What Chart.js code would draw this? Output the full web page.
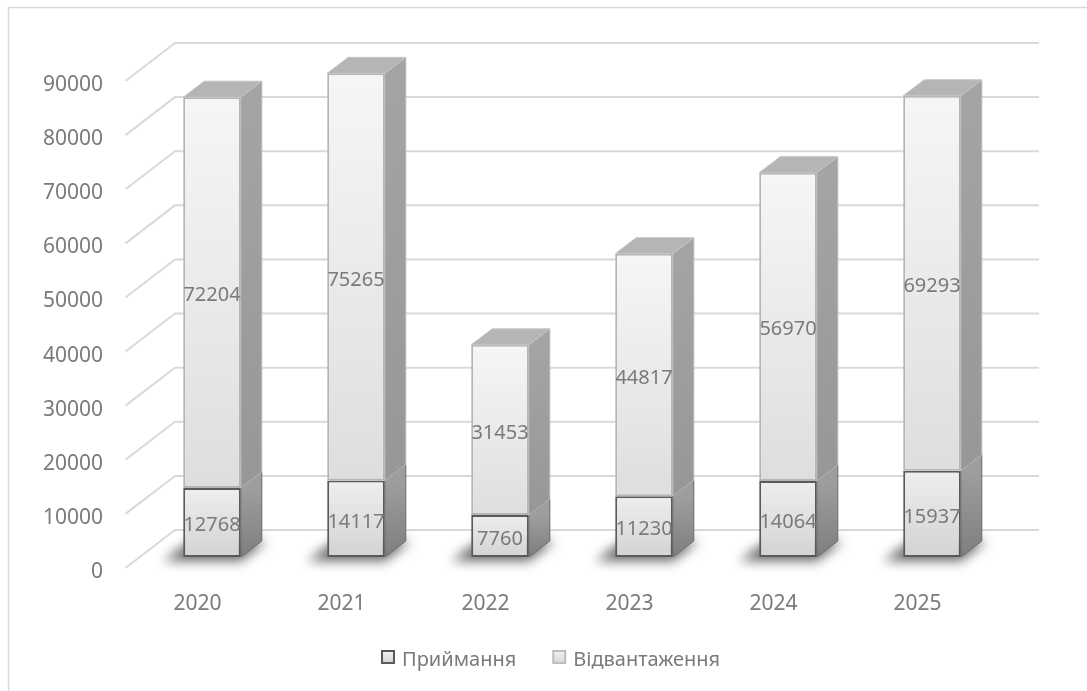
<!DOCTYPE html>
<html>
<head>
<meta charset="utf-8">
<script src="https://cdn.jsdelivr.net/npm/chart.js@4.4.1/dist/chart.umd.min.js"></script>
<style>
  body { margin: 0; background: #fff; }
  canvas { display: block; }
</style>
</head>
<body>
<canvas id="chart" width="1087" height="691"></canvas>
<script>
const years = ['2020', '2021', '2022', '2023', '2024', '2025'];
const receiving = [12768, 14117, 7760, 11230, 14064, 15937];
const shipping = [72204, 75265, 31453, 44817, 56970, 69293];
const seriesNames = ['Приймання', 'Відвантаження'];
const yMax = 90000;
const yStep = 10000;

const FONT = '"Noto Sans", "Open Sans", sans-serif';
const TEXT = '#7a7a7a';
// depth offsets of the fake 3d box
const FRONT = { dx: -14.5, dy: 11 };
const BACK = { dx: 35, dy: -27 };
const DEPTH = { dx: 21, dy: -16 };
// Noto's middle baseline sits a bit high for digits
const TXT_NUDGE = 3;

function segRange(di, i) {
  const start = di === 0 ? 0 : receiving[i];
  const val = di === 0 ? receiving[i] : shipping[i];
  return [start, start + val];
}

function frontFill(di) {
  return ctx => {
    const chart = ctx.chart;
    if (!chart.chartArea || ctx.type !== 'data') return '#eeeeee';
    const y = chart.scales.y;
    const [s, e] = segRange(di, ctx.dataIndex);
    const g = chart.ctx.createLinearGradient(0, y.getPixelForValue(e), 0, y.getPixelForValue(s));
    if (di === 0) {
      g.addColorStop(0, '#eeeeee');
      g.addColorStop(1, '#d3d3d3');
    } else {
      g.addColorStop(0, '#f6f6f6');
      g.addColorStop(1, '#dedede');
    }
    return g;
  };
}

function poly(ctx, pts) {
  ctx.beginPath();
  ctx.moveTo(pts[0][0], pts[0][1]);
  for (let k = 1; k < pts.length; k++) ctx.lineTo(pts[k][0], pts[k][1]);
  ctx.closePath();
}

const boxPlugin = {
  id: 'box3d',
  beforeDatasetsDraw(chart) {
    const ctx = chart.ctx;
    const area = chart.chartArea;
    const ys = chart.scales.y;
    ctx.save();
    // outer frame
    ctx.strokeStyle = '#d9d9d9';
    ctx.lineWidth = 1.5;
    ctx.strokeRect(8.5, 7.5, 1200, 1200);
    // gridlines: floor/left wall diagonals + back wall
    ctx.strokeStyle = '#d9d9d9';
    ctx.lineWidth = 2;
    ys.ticks.forEach(t => {
      const py = ys.getPixelForValue(t.value);
      ctx.beginPath();
      ctx.moveTo(area.left + FRONT.dx, py + FRONT.dy);
      ctx.lineTo(area.left + BACK.dx, py + BACK.dy);
      ctx.lineTo(area.right + BACK.dx, py + BACK.dy);
      ctx.stroke();
    });
    // tick labels on the front plane
    ctx.fillStyle = TEXT;
    ctx.font = '21px ' + FONT;
    ctx.textAlign = 'right';
    ctx.textBaseline = 'middle';
    ys.ticks.forEach(t => {
      const py = ys.getPixelForValue(t.value);
      ctx.fillText(String(t.value), 103, py + FRONT.dy + TXT_NUDGE + 1);
    });
    const xs = chart.scales.x;
    ctx.textAlign = 'center';
    years.forEach((lab, i) => {
      ctx.fillText(lab, xs.getPixelForValue(i) + FRONT.dx, 601 + TXT_NUDGE);
    });
    // floor shadows
    const meta = chart.getDatasetMeta(0);
    ctx.filter = 'blur(6px)';
    ctx.fillStyle = 'rgba(0,0,0,0.6)';
    meta.data.forEach(bar => {
      const l = bar.x - bar.width / 2, r = bar.x + bar.width / 2, b = bar.base;
      poly(ctx, [[l - 20, b + 4], [r, b + 4], [r + 26, b - 16], [l + 8, b - 16]]);
      ctx.fill();
    });
    ctx.filter = 'none';
    ctx.restore();
  },
  afterDatasetsDraw(chart) {
    const ctx = chart.ctx;
    ctx.save();
    const top = chart.data.datasets.length - 1;
    chart.data.datasets.forEach((ds, di) => {
      const meta = chart.getDatasetMeta(di);
      meta.data.forEach(bar => {
        const l = bar.x - bar.width / 2, r = bar.x + bar.width / 2;
        const yt = bar.y, yb = bar.base;
        const g = ctx.createLinearGradient(0, yt, 0, yb);
        if (di === 0) {
          g.addColorStop(0, '#9e9e9e');
          g.addColorStop(1, '#7e7e7e');
        } else {
          g.addColorStop(0, '#a4a4a4');
          g.addColorStop(1, '#979797');
        }
        poly(ctx, [[r, yt], [r + DEPTH.dx, yt + DEPTH.dy], [r + DEPTH.dx, yb + DEPTH.dy], [r, yb]]);
        ctx.fillStyle = g;
        ctx.fill();
        ctx.strokeStyle = di === 0 ? '#6a6a6a' : '#b9b9b9';
        ctx.lineWidth = 1;
        ctx.stroke();
        if (di === top) {
          poly(ctx, [[l, yt], [l + DEPTH.dx, yt + DEPTH.dy], [r + DEPTH.dx, yt + DEPTH.dy], [r, yt]]);
          ctx.fillStyle = '#b5b5b5';
          ctx.fill();
          ctx.strokeStyle = '#c4c4c4';
          ctx.stroke();
        }
      });
    });
    // value labels
    ctx.fillStyle = TEXT;
    ctx.font = '20px ' + FONT;
    ctx.textAlign = 'center';
    ctx.textBaseline = 'middle';
    chart.data.datasets.forEach((ds, di) => {
      chart.getDatasetMeta(di).data.forEach((bar, i) => {
        ctx.fillText(String(ds.data[i]), bar.x, (bar.y + bar.base) / 2 + TXT_NUDGE);
      });
    });
    ctx.restore();
  },
  afterDraw(chart) {
    const ctx = chart.ctx;
    ctx.save();
    ctx.font = '20px ' + FONT;
    ctx.textBaseline = 'middle';
    ctx.textAlign = 'left';
    const ly = 657;
    let x = 381;
    seriesNames.forEach((name, di) => {
      const g = ctx.createLinearGradient(0, ly - 6, 0, ly + 6);
      g.addColorStop(0, '#f2f2f2');
      g.addColorStop(1, '#d6d6d6');
      ctx.fillStyle = g;
      ctx.fillRect(x + 1, ly - 6, 12, 12);
      ctx.strokeStyle = di === 0 ? '#595959' : '#bdbdbd';
      ctx.lineWidth = 2;
      ctx.strokeRect(x + 1, ly - 6, 12, 12);
      ctx.fillStyle = TEXT;
      ctx.fillText(name, x + 21, ly + TXT_NUDGE);
      x += 21 + ctx.measureText(name).width + 36;
    });
    ctx.restore();
  }
};

new Chart(document.getElementById('chart'), {
  type: 'bar',
  data: {
    labels: years,
    datasets: [
      {
        label: seriesNames[0],
        data: receiving,
        backgroundColor: frontFill(0),
        borderColor: '#5a5a5a',
        borderWidth: 2,
        borderSkipped: false
      },
      {
        label: seriesNames[1],
        data: shipping,
        backgroundColor: frontFill(1),
        borderColor: '#b5b5b5',
        borderWidth: 2,
        borderSkipped: false
      }
    ]
  },
  options: {
    responsive: false,
    animation: false,
    layout: { padding: { left: 140, right: 83, top: 70, bottom: 134 } },
    categoryPercentage: 0.8,
    barPercentage: 0.5,
    plugins: { legend: { display: false }, tooltip: { enabled: false } },
    scales: {
      x: { stacked: true, display: false },
      y: { stacked: true, display: false, min: 0, max: yMax, ticks: { stepSize: yStep } }
    }
  },
  plugins: [boxPlugin]
});
</script>
</body>
</html>
